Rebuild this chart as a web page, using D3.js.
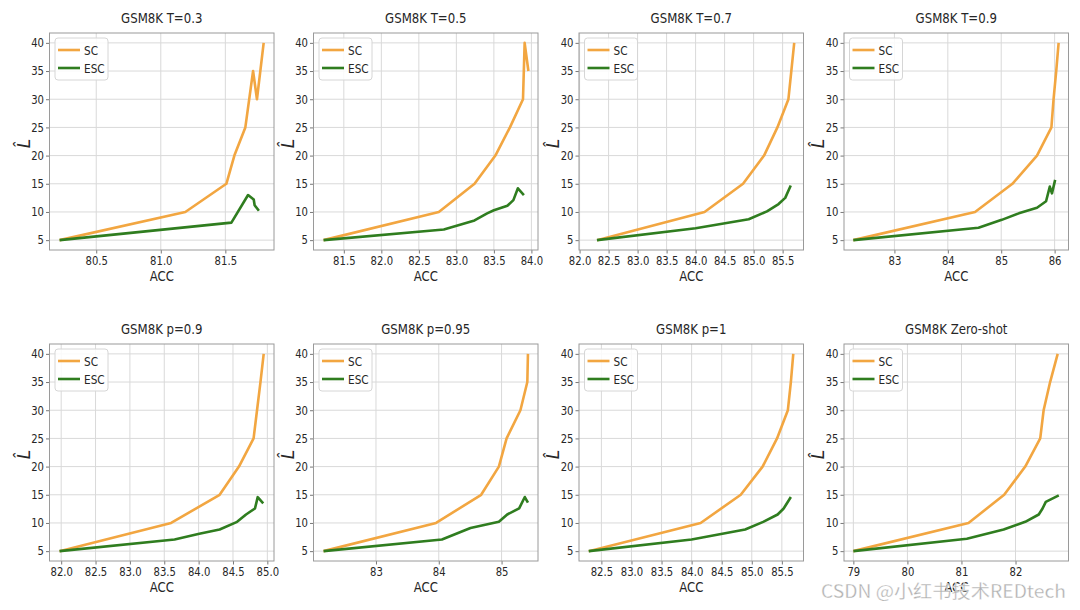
<!DOCTYPE html>
<html>
<head>
<meta charset="utf-8">
<script src="https://cdn.jsdelivr.net/npm/d3@7"></script>
<style>
  html, body { margin: 0; padding: 0; background: #ffffff; }
  svg { display: block; font-family: "DejaVu Sans", sans-serif; }
</style>
</head>
<body>
<svg id="chart" width="1080" height="610"></svg>
<script>
// ---------------- DATA ----------------
const titles = ["GSM8K T=0.3", "GSM8K T=0.5", "GSM8K T=0.7", "GSM8K T=0.9",
                "GSM8K p=0.9", "GSM8K p=0.95", "GSM8K p=1", "GSM8K Zero-shot"];
const seriesNames = ["SC", "ESC"];
const yTicks = [5, 10, 15, 20, 25, 30, 35, 40];
const yDomain = [3.25, 41.75];

const xDomains = [
  [80.138, 81.877], [81.096, 84.088], [81.99, 85.86], [82.056, 86.26],
  [81.83, 85.097], [82.005, 85.58], [82.128, 85.86], [78.827, 82.98]
];
const xTicks = [
  [80.5, 81.0, 81.5],
  [81.5, 82.0, 82.5, 83.0, 83.5, 84.0],
  [82.0, 82.5, 83.0, 83.5, 84.0, 84.5, 85.0, 85.5],
  [83, 84, 85, 86],
  [82.0, 82.5, 83.0, 83.5, 84.0, 84.5, 85.0],
  [83, 84, 85],
  [82.5, 83.0, 83.5, 84.0, 84.5, 85.0, 85.5],
  [79, 80, 81, 82]
];
const xTickDecimals = [1, 1, 1, 0, 1, 0, 1, 0];

// SC: ACC and L-hat, in drawing order
const scAcc = [
  [80.216, 81.19, 81.508, 81.57, 81.655, 81.715, 81.745, 81.797],
  [81.23, 82.766, 83.242, 83.52, 83.714, 83.888, 83.91, 83.96],
  [82.30, 84.154, 84.818, 85.18, 85.41, 85.60, 85.65, 85.70],
  [82.23, 84.51, 85.21, 85.67, 85.94, 85.98, 86.03, 86.075],
  [81.976, 83.60, 84.306, 84.587, 84.80, 84.85, 84.90, 84.947],
  [82.165, 83.957, 84.675, 84.957, 85.08, 85.30, 85.41, 85.42],
  [82.29, 84.15, 84.817, 85.18, 85.42, 85.60, 85.65, 85.69],
  [79.0, 81.13, 81.79, 82.18, 82.457, 82.52, 82.64, 82.78]
];
const scL = [
  [5, 10, 15, 20, 25, 35, 30, 40],
  [5, 10, 15, 20, 25, 30, 40, 35],
  [5, 10, 15, 20, 25, 30, 35, 40],
  [5, 10, 15, 20, 25, 30, 35, 40],
  [5, 10, 15, 20, 25, 30, 35, 40],
  [5, 10, 15, 20, 25, 30, 35, 40],
  [5, 10, 15, 20, 25, 30, 35, 40],
  [5, 10, 15, 20, 25, 30, 35, 40]
];
// ESC: ACC and L-hat, in drawing order
const escAcc = [
  [80.216, 81.547, 81.676, 81.72, 81.727, 81.76],
  [81.23, 82.833, 83.242, 83.41, 83.5, 83.68, 83.76, 83.82, 83.90],
  [82.30, 84.0, 84.915, 85.23, 85.43, 85.545, 85.64],
  [82.23, 84.575, 85.01, 85.33, 85.67, 85.84, 85.91, 85.95, 86.01],
  [81.976, 83.65, 84.01, 84.306, 84.56, 84.69, 84.82, 84.86, 84.94],
  [82.165, 84.05, 84.505, 84.957, 85.09, 85.28, 85.37, 85.42],
  [82.29, 84.0, 84.89, 85.19, 85.43, 85.53, 85.65],
  [79.0, 81.10, 81.78, 82.18, 82.43, 82.5, 82.56, 82.80]
];
const escL = [
  [5, 8.1, 13.0, 12.2, 11.2, 10.2],
  [5, 6.9, 8.5, 9.75, 10.3, 11.1, 12.1, 14.2, 13.0],
  [5, 7.1, 8.7, 10.1, 11.4, 12.5, 14.7],
  [5, 7.2, 8.6, 9.75, 10.75, 11.9, 14.5, 13.3, 15.7],
  [5, 7.07, 8.07, 8.84, 10.2, 11.5, 12.57, 14.58, 13.46],
  [5, 7.07, 9.1, 10.2, 11.5, 12.6, 14.6, 13.6],
  [5, 7.07, 8.84, 10.2, 11.5, 12.57, 14.6],
  [5, 7.2, 8.84, 10.2, 11.5, 12.57, 13.75, 14.9]
];

// ---------------- STYLE / LAYOUT ----------------
const colors = { SC: "#F2A641", ESC: "#2F7D1F" };
const panelLeft = [49.5, 313.5, 579, 844];
const panelTop = [33, 344];
const pw = 224.5, ph = 217;
const sx = 0.84; // horizontal text condensation
const textColor = "#262626";

const svg = d3.select("#chart");

titles.forEach((title, i) => {
  const col = i % 4, row = Math.floor(i / 4);
  const g = svg.append("g").attr("transform", `translate(${panelLeft[col]},${panelTop[row]})`);

  const x = d3.scaleLinear().domain(xDomains[i]).range([0, pw]);
  const y = d3.scaleLinear().domain(yDomain).range([ph, 0]);

  // grid
  g.append("g").selectAll("line.vg").data(xTicks[i]).join("line")
    .attr("x1", d => x(d)).attr("x2", d => x(d)).attr("y1", 0).attr("y2", ph)
    .attr("stroke", "#d9d9d9").attr("stroke-width", 1);
  g.append("g").selectAll("line.hg").data(yTicks).join("line")
    .attr("x1", 0).attr("x2", pw).attr("y1", d => y(d)).attr("y2", d => y(d))
    .attr("stroke", "#d9d9d9").attr("stroke-width", 1);

  // axes
  const fmt = d3.format(`.${xTickDecimals[i]}f`);
  const xAxis = g.append("g").attr("transform", `translate(0,${ph})`)
    .call(d3.axisBottom(x).tickValues(xTicks[i]).tickFormat(fmt).tickSize(3.5).tickPadding(3));
  const yAxis = g.append("g")
    .call(d3.axisLeft(y).tickValues(yTicks).tickFormat(d3.format("d")).tickSize(3.5).tickPadding(3));
  [xAxis, yAxis].forEach(ax => {
    ax.select(".domain").remove();
    ax.selectAll(".tick line").attr("stroke", "#555").attr("stroke-width", 0.8);
    ax.selectAll(".tick text").attr("fill", textColor).attr("font-size", 12)
      .attr("font-family", "DejaVu Sans, sans-serif");
  });
  xAxis.selectAll(".tick text").attr("transform", `scale(${sx},1)`);
  yAxis.selectAll(".tick text").attr("transform", `scale(${sx},1)`);

  // frame
  g.append("rect").attr("x", 0).attr("y", 0).attr("width", pw).attr("height", ph)
    .attr("fill", "none").attr("stroke", "#9a9a9a").attr("stroke-width", 1);

  // lines
  const line = d3.line().x(d => x(d[0])).y(d => y(d[1]));
  const scPts = scAcc[i].map((a, k) => [a, scL[i][k]]);
  const escPts = escAcc[i].map((a, k) => [a, escL[i][k]]);
  g.append("path").datum(scPts).attr("d", line).attr("fill", "none")
    .attr("stroke", colors.SC).attr("stroke-width", 2.6).attr("stroke-linejoin", "round").attr("stroke-linecap", "butt");
  g.append("path").datum(escPts).attr("d", line).attr("fill", "none")
    .attr("stroke", colors.ESC).attr("stroke-width", 2.6).attr("stroke-linejoin", "round").attr("stroke-linecap", "butt");

  // title
  g.append("text").attr("transform", `translate(${pw / 2},-10) scale(${sx},1)`)
    .attr("text-anchor", "middle").attr("font-size", 14).attr("fill", textColor).text(title);
  // x label
  g.append("text").attr("transform", `translate(${pw / 2},${ph + 31}) scale(${sx},1)`)
    .attr("text-anchor", "middle").attr("font-size", 14).attr("fill", textColor).text("ACC");
  // y label
  g.append("text").attr("transform", `translate(-20,${ph / 2 + 2}) rotate(-90)`)
    .attr("text-anchor", "middle").attr("font-size", 17).attr("font-style", "italic")
    .attr("fill", textColor).text("L\u0302");

  // legend
  const lg = g.append("g").attr("transform", "translate(5.5,5)");
  lg.append("rect").attr("width", 53).attr("height", 42).attr("rx", 3)
    .attr("fill", "#ffffff").attr("fill-opacity", 0.85).attr("stroke", "#d6d6d6").attr("stroke-width", 1);
  seriesNames.forEach((name, k) => {
    const yy = 12 + k * 18;
    lg.append("line").attr("x1", 3).attr("x2", 25).attr("y1", yy).attr("y2", yy)
      .attr("stroke", colors[name]).attr("stroke-width", 2.6);
    lg.append("text").attr("transform", `translate(29,${yy + 4.5}) scale(${sx},1)`)
      .attr("font-size", 12.5).attr("fill", textColor).text(name);
  });
});

// watermark
svg.append("text").attr("x", 1066).attr("y", 598).attr("text-anchor", "end")
  .attr("font-family", "'Noto Sans CJK SC', 'DejaVu Sans', sans-serif")
  .attr("font-size", 18).attr("fill", "#b0b0b0").attr("stroke", "#ffffff").attr("stroke-width", 0.3)
  .attr("textLength", 245).attr("lengthAdjust", "spacingAndGlyphs")
  .text("CSDN @小红书技术REDtech");
</script>
</body>
</html>
